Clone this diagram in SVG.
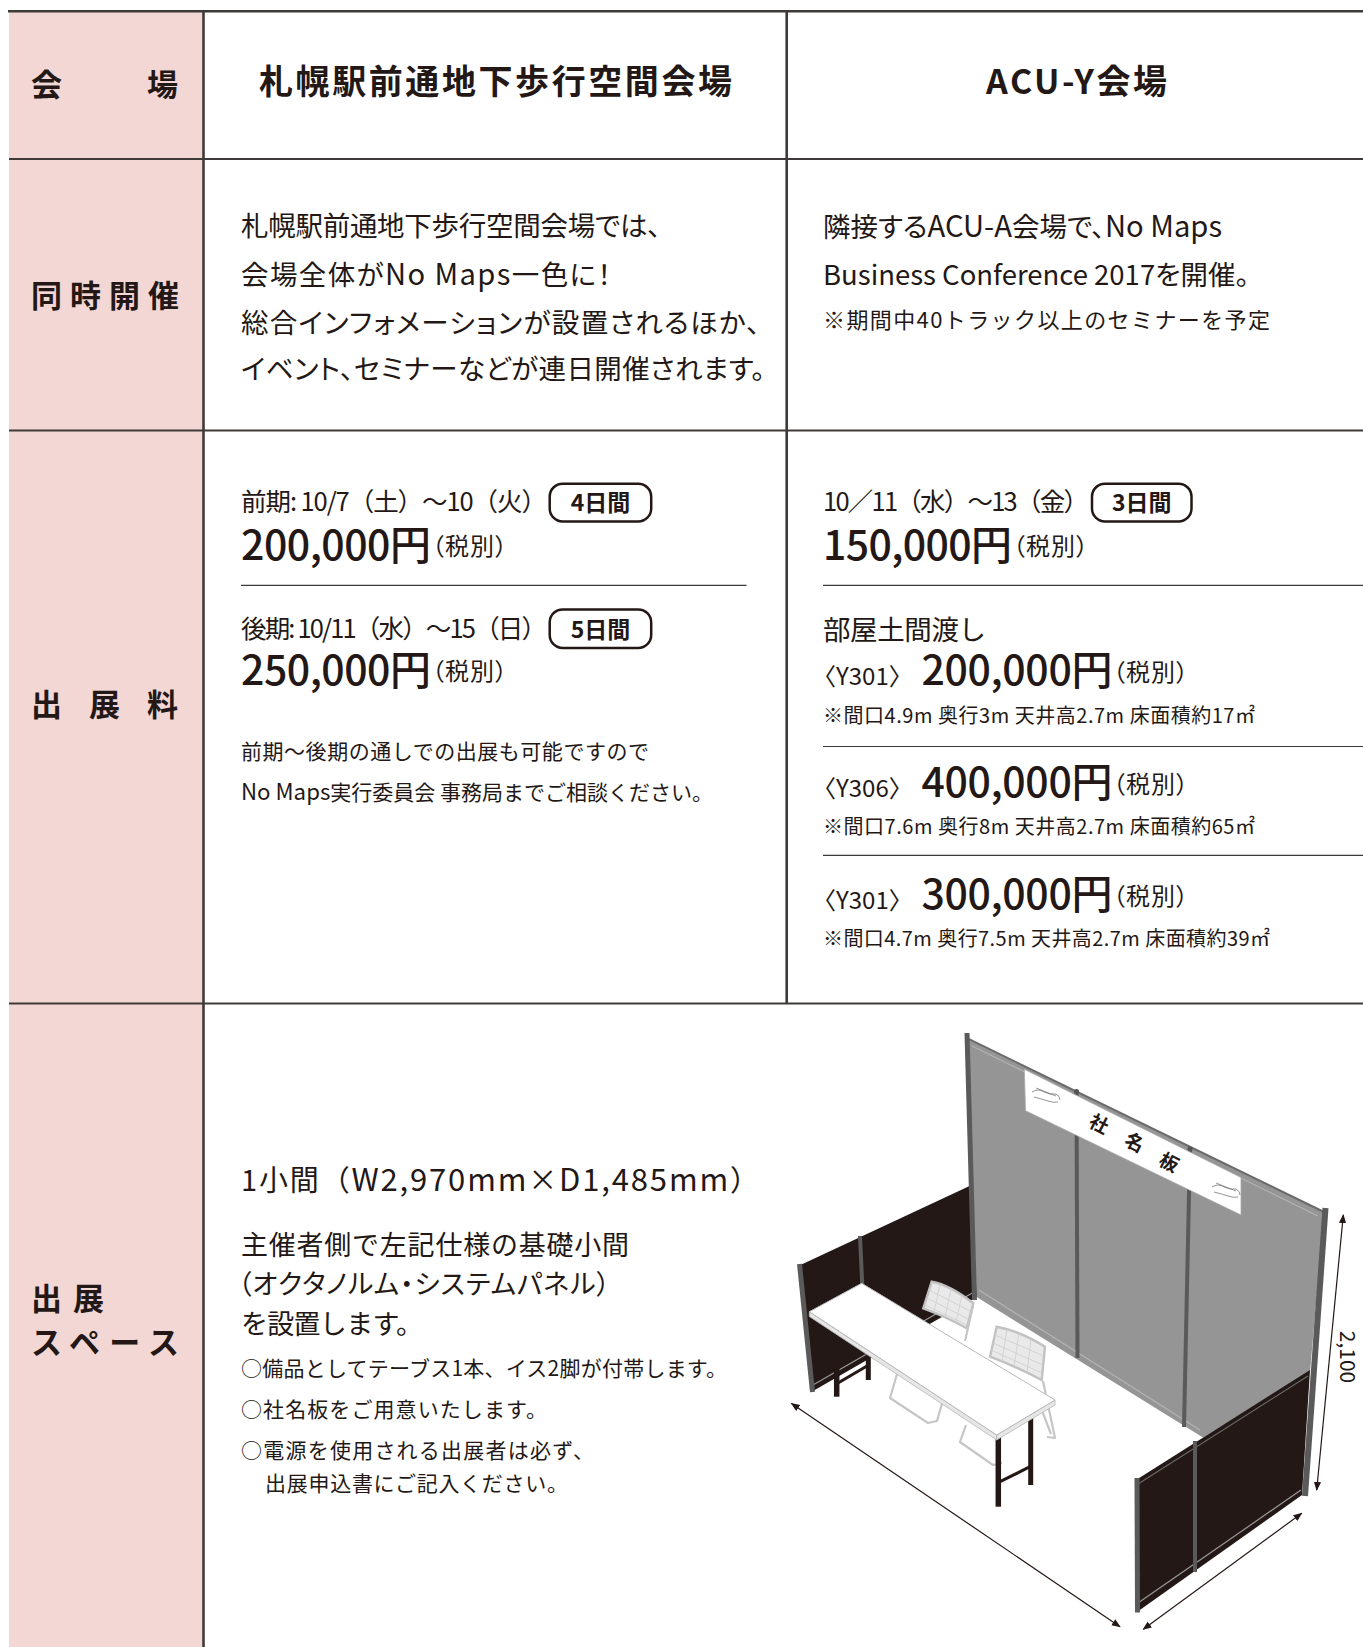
<svg xmlns="http://www.w3.org/2000/svg" width="1363" height="1647" viewBox="0 0 1363 1647">
<defs>
<style>
.t{font-family:"Noto Sans CJK JP","Noto Sans",sans-serif;fill:#231815;}
.p{font-feature-settings:"palt";}
.lt{font-size:1.06em;}
.b{font-weight:700;}
.hd{font-size:34px;font-weight:700;}
.lab{font-size:31px;font-weight:700;}
.body{font-size:27.5px;font-weight:400;}
.mid{font-size:25.5px;font-weight:400;}
.sm{font-size:21px;font-weight:400;}
.xs{font-size:20px;font-weight:400;}
.price{font-size:41px;font-weight:500;}
.tax{font-size:24px;font-weight:400;letter-spacing:1px;font-feature-settings:"palt";}
.code{font-size:24px;font-weight:400;}
.badge{fill:none;stroke:#231815;stroke-width:2.5;}
.bt{font-size:23px;font-weight:700;text-anchor:middle;}
.grid{stroke:#3e3a39;stroke-width:1.8;fill:none;}
.sub{stroke:#3e3a39;stroke-width:1.2;fill:none;}
.dim{stroke:#231815;stroke-width:1.2;fill:none;marker-start:url(#ah);marker-end:url(#ah);}
.post{stroke:#5a5a5a;stroke-linecap:butt;fill:none;}
.chair{stroke:#c6c6c6;stroke-width:2.2;fill:none;stroke-linejoin:round;}
.cg{stroke:#d0d0d0;stroke-width:0.9;fill:none;}
.leg{stroke:#231815;stroke-width:5.5;fill:none;}
.frame{stroke:#9a9a9a;stroke-width:1.2;fill:none;}
</style>
<marker id="ah" viewBox="0 0 10 10" refX="9" refY="5" markerWidth="9" markerHeight="9" markerUnits="userSpaceOnUse" orient="auto-start-reverse">
<path d="M0,1 L10,5 L0,9 Z" fill="#231815"/>
</marker>
</defs>
<rect x="0" y="0" width="1363" height="1647" fill="#ffffff"/>

<g id="table-frame">
<rect x="9" y="11" width="194.5" height="1636" fill="#f2d7d5"/>
<line class="grid" x1="8" y1="11.2" x2="1363" y2="11.2" style="stroke-width:2.6"/>
<line class="grid" x1="9" y1="159" x2="1363" y2="159"/>
<line class="grid" x1="9" y1="430.5" x2="1363" y2="430.5"/>
<line class="grid" x1="9" y1="1003.5" x2="1363" y2="1003.5"/>
<line class="grid" x1="203.5" y1="11" x2="203.5" y2="1647" style="stroke-width:2.6"/>
<line class="grid" x1="786.7" y1="11" x2="786.7" y2="1003.5" style="stroke-width:2.6"/>
</g>

<g id="row-venue">
<text class="t lab" x="31" y="95.6">会</text>
<text class="t lab" x="147" y="95.6">場</text>
<text class="t hd" x="259" y="93.5" textLength="473" lengthAdjust="spacing">札幌駅前通地下歩行空間会場</text>
<text class="t hd" x="986" y="93.5" textLength="181" lengthAdjust="spacing">ACU-Y会場</text>
</g>

<g id="row-events">
<text class="t lab" x="31" y="307" textLength="148" lengthAdjust="spacing">同時開催</text>
<text class="t body p" x="241" y="235.5" textLength="420" lengthAdjust="spacing">札幌駅前通地下歩行空間会場では、</text>
<text class="t body p" x="241" y="284.8" style="letter-spacing:1.4px">会場全体が<tspan class="lt">No Maps</tspan>一色に！</text>
<text class="t body p" x="241" y="333" textLength="519" lengthAdjust="spacing">総合インフォメーションが設置されるほか、</text>
<text class="t body p" x="241" y="379" textLength="524" lengthAdjust="spacing">イベント、セミナーなどが連日開催されます。</text>
<text class="t body p" x="823" y="236.5">隣接する<tspan class="lt">ACU-A</tspan>会場で、<tspan class="lt">No Maps</tspan></text>
<text class="t body p" x="823" y="284.8">Business Conference 2017を開催。</text>
<text class="t" style="font-size:22px" x="823" y="327.8" textLength="447" lengthAdjust="spacing">※期間中40トラック以上のセミナーを予定</text>
</g>

<g id="row-fee">
<text class="t lab" x="31" y="716">出</text>
<text class="t lab" x="89" y="716">展</text>
<text class="t lab" x="147" y="716">料</text>

<text class="t mid" x="241" y="511" textLength="306" lengthAdjust="spacing">前期: 10/7（土）～10（火）</text>
<rect class="badge" x="549.7" y="483.7" width="101.5" height="37.7" rx="13"/>
<text class="t bt" x="600.5" y="511.3">4日間</text>
<text class="t price" x="241" y="560" textLength="190" lengthAdjust="spacing">200,000円</text>
<text class="t tax" x="432" y="555">（税別）</text>
<line class="sub" x1="241" y1="585.3" x2="746.5" y2="585.3"/>
<text class="t mid" x="241" y="637.7" textLength="306" lengthAdjust="spacing">後期: 10/11（水）～15（日）</text>
<rect class="badge" x="549.7" y="609.4" width="101.5" height="38.6" rx="13"/>
<text class="t bt" x="600.5" y="637.8">5日間</text>
<text class="t price" x="241" y="684.5" textLength="190" lengthAdjust="spacing">250,000円</text>
<text class="t tax" x="432" y="679.5">（税別）</text>
<text class="t sm" x="241" y="758.5" textLength="408" lengthAdjust="spacing">前期～後期の通しでの出展も可能ですので</text>
<text class="t sm" x="241" y="800.4"><tspan class="lt">No Maps</tspan>実行委員会 事務局までご相談ください。</text>

<text class="t mid" x="823" y="511" textLength="266" lengthAdjust="spacing">10／11（水）～13（金）</text>
<rect class="badge" x="1092" y="483.7" width="99.5" height="37.7" rx="13"/>
<text class="t bt" x="1141.8" y="511.3">3日間</text>
<text class="t price" x="823" y="560" textLength="189" lengthAdjust="spacing">150,000円</text>
<text class="t tax" x="1013" y="555">（税別）</text>
<line class="sub" x1="823" y1="585.3" x2="1363" y2="585.3"/>
<text class="t body" x="823" y="639.7" textLength="163" lengthAdjust="spacing">部屋土間渡し</text>
<text class="t code" x="812" y="685">〈Y301〉</text>
<text class="t price" x="921.4" y="685" textLength="191" lengthAdjust="spacing">200,000円</text>
<text class="t tax" x="1113" y="680.5">（税別）</text>
<text class="t xs" x="823" y="723.2" textLength="432" lengthAdjust="spacing">※間口4.9m 奥行3m 天井高2.7m 床面積約17㎡</text>
<line class="sub" x1="823" y1="746.5" x2="1363" y2="746.5"/>
<text class="t code" x="812" y="797">〈Y306〉</text>
<text class="t price" x="921.4" y="797" textLength="191" lengthAdjust="spacing">400,000円</text>
<text class="t tax" x="1113" y="792.5">（税別）</text>
<text class="t xs" x="823" y="834.3" textLength="432" lengthAdjust="spacing">※間口7.6m 奥行8m 天井高2.7m 床面積約65㎡</text>
<line class="sub" x1="823" y1="855.4" x2="1363" y2="855.4"/>
<text class="t code" x="812" y="909">〈Y301〉</text>
<text class="t price" x="921.4" y="909" textLength="191" lengthAdjust="spacing">300,000円</text>
<text class="t tax" x="1113" y="904.5">（税別）</text>
<text class="t xs" x="823" y="946.4" textLength="447" lengthAdjust="spacing">※間口4.7m 奥行7.5m 天井高2.7m 床面積約39㎡</text>
</g>

<g id="row-space">
<text class="t lab" x="31" y="1310">出</text>
<text class="t lab" x="73" y="1310">展</text>
<text class="t lab" x="31" y="1354" textLength="148" lengthAdjust="spacing">スペース</text>
<text class="t" style="font-size:29px" x="241" y="1191" textLength="518" lengthAdjust="spacing">1小間（<tspan style="font-size:31px">W2,970mm</tspan>×<tspan style="font-size:31px">D1,485mm</tspan>）</text>
<text class="t" style="font-size:27px" x="241" y="1255" textLength="388" lengthAdjust="spacing">主催者側で左記仕様の基礎小間</text>
<text class="t p" style="font-size:27px" x="238" y="1294" textLength="372" lengthAdjust="spacing">（オクタノルム・システムパネル）</text>
<text class="t" style="font-size:27px" x="241" y="1334" textLength="182" lengthAdjust="spacing">を設置します。</text>
<text class="t sm" x="241" y="1376.4" textLength="486" lengthAdjust="spacing">○備品としてテーブス1本、イス2脚が付帯します。</text>
<text class="t sm" x="241" y="1417.2" textLength="306" lengthAdjust="spacing">○社名板をご用意いたします。</text>
<text class="t sm" x="241" y="1458" textLength="353" lengthAdjust="spacing">○電源を使用される出展者は必ず、</text>
<text class="t sm" x="265" y="1490.6" textLength="303" lengthAdjust="spacing">出展申込書にご記入ください。</text>
</g>

<g id="booth">
<polygon points="967.5,1038.4 1324,1212 1310,1372 1203,1437.5 976.7,1297" fill="#959595"/>
<polyline class="frame" points="972,1046 1318,1216" style="stroke:#b3b3b3"/>
<polyline class="frame" points="979,1290 1200,1430" style="stroke:#b3b3b3"/>
<polygon points="798.3,1266 971.7,1185 976.7,1297 811.7,1391.7" fill="#231815"/>
<polygon points="1136,1480 1310,1370 1302,1495 1137,1612" fill="#231815"/>
<polyline class="frame" points="813,1385 974,1292"/>
<polyline class="frame" points="1138,1603 1301,1490"/>
<polyline class="frame" points="1138,1484 1308,1376" style="stroke:#6a6a6a"/>
<line x1="967.5" y1="1038.4" x2="1324" y2="1212" stroke="#6a6a6a" stroke-width="2"/>
<line class="post" x1="967" y1="1033" x2="974.5" y2="1300" stroke-width="5"/>
<line class="post" x1="1325.5" y1="1208" x2="1305" y2="1496" stroke-width="6"/>
<line class="post" x1="1076.5" y1="1090" x2="1077.5" y2="1358" stroke-width="4"/>
<line class="post" x1="1190" y1="1148" x2="1184" y2="1427" stroke-width="4"/>
<line class="post" x1="799.5" y1="1264" x2="812.5" y2="1392" stroke-width="5" stroke="#6e6e6e"/>
<line class="post" x1="860" y1="1236" x2="863" y2="1300" stroke-width="4"/>
<line class="post" x1="1137" y1="1478" x2="1137.5" y2="1612.5" stroke-width="5" stroke="#6e6e6e"/>
<line class="post" x1="1195" y1="1441" x2="1195" y2="1572" stroke-width="4" stroke="#6a6a6a"/>
<circle cx="1076.5" cy="1091.5" r="2.6" fill="#555"/>
<circle cx="1190" cy="1149" r="2.6" fill="#555"/>
<polygon points="1024.3,1069.3 1241,1177.5 1241,1215 1025.5,1110.7" fill="#ffffff" stroke="#a8a8a8" stroke-width="0.8"/>
<g stroke="#777" stroke-width="0.8" fill="none">
<path d="M1032,1092 q6,-4 12,0 q6,3 12,2 q4,2 4,6"/>
<path d="M1034,1097 q8,2 14,4 q6,2 10,1"/>
<path d="M1036,1088 l20,8"/>
<path d="M1212,1187 q6,-4 12,0 q6,3 12,2 q4,2 4,6"/>
<path d="M1214,1192 q8,2 14,4 q6,2 10,1"/>
<path d="M1216,1183 l20,8"/>
</g>
<text class="t b" style="font-size:19px" text-anchor="middle" transform="translate(1096,1130) rotate(27)">社</text>
<text class="t b" style="font-size:19px" text-anchor="middle" transform="translate(1131.5,1148.5) rotate(27)">名</text>
<text class="t b" style="font-size:19px" text-anchor="middle" transform="translate(1166,1168.5) rotate(27)">板</text>
<!-- chairs -->
<path d="M931.7,1281.7 Q950,1285 973.3,1303.3 L966.7,1328.3 Q945,1316 923.3,1308.3 Z" fill="#e9e9e9" stroke="#c2c2c2" stroke-width="2.4"/>
<path class="cg" d="M929,1290 L970,1311 M927,1298 L968,1319 M925,1305 L967,1325 M940,1284 L934,1312 M951,1289 L945,1317 M962,1295 L956,1322"/>
<path class="chair" d="M973,1306 L965,1341"/>
<path d="M996.7,1326.7 Q1020,1331 1045,1346.7 L1041.7,1380 Q1015,1366 990,1356.7 Z" fill="#e9e9e9" stroke="#c2c2c2" stroke-width="2.4"/>
<path class="cg" d="M995,1335 L1044,1356 M993,1343 L1043,1365 M991,1350 L1042,1373 M1007,1329 L1002,1361 M1019,1333 L1014,1367 M1031,1339 L1027,1373"/>
<path class="chair" d="M1043,1381 L1055,1438 L1047,1437"/>
<path class="chair" d="M1036,1395 L1051,1434"/>
<path class="chair" d="M897,1374 L890,1398 L928,1423 L937,1421 L943,1400"/>
<path class="chair" d="M966,1425 L960,1442 L993,1465 L1002,1463"/>
<!-- table -->
<line class="leg" x1="836.7" y1="1318" x2="836.7" y2="1396.7"/>
<line class="leg" x1="868.3" y1="1300" x2="868.3" y2="1380" style="stroke-width:5"/>
<line class="leg" x1="838" y1="1383" x2="867" y2="1366" style="stroke-width:3"/>
<line class="leg" x1="998.3" y1="1430" x2="998.3" y2="1506.7"/>
<line class="leg" x1="1030.7" y1="1405" x2="1030.7" y2="1485" style="stroke-width:5"/>
<line class="leg" x1="1000" y1="1481.7" x2="1030" y2="1466.7" style="stroke-width:3"/>
<polygon points="809.3,1311.7 996.7,1435 996.7,1440 809.3,1316.5" fill="#e6e6e6" stroke="#b8b8b8" stroke-width="0.8"/>
<polygon points="996.7,1435 1055,1400 1055,1405 996.7,1440" fill="#e6e6e6" stroke="#b8b8b8" stroke-width="0.8"/>
<polygon points="809.3,1311.7 861.7,1283.3 1055,1400 996.7,1435" fill="#ffffff" stroke="#b8b8b8" stroke-width="1"/>
</g>

<g id="connectors">
<line class="dim" x1="791.5" y1="1403.5" x2="1120" y2="1626.7"/>
<line class="dim" x1="1143.3" y1="1629.3" x2="1301.7" y2="1513.3"/>
<line class="dim" x1="1343.3" y1="1215" x2="1316.7" y2="1490"/>
<text class="t" style="font-size:21px" text-anchor="middle" transform="translate(1340,1357) rotate(90)">2,100</text>
</g>
</svg>
